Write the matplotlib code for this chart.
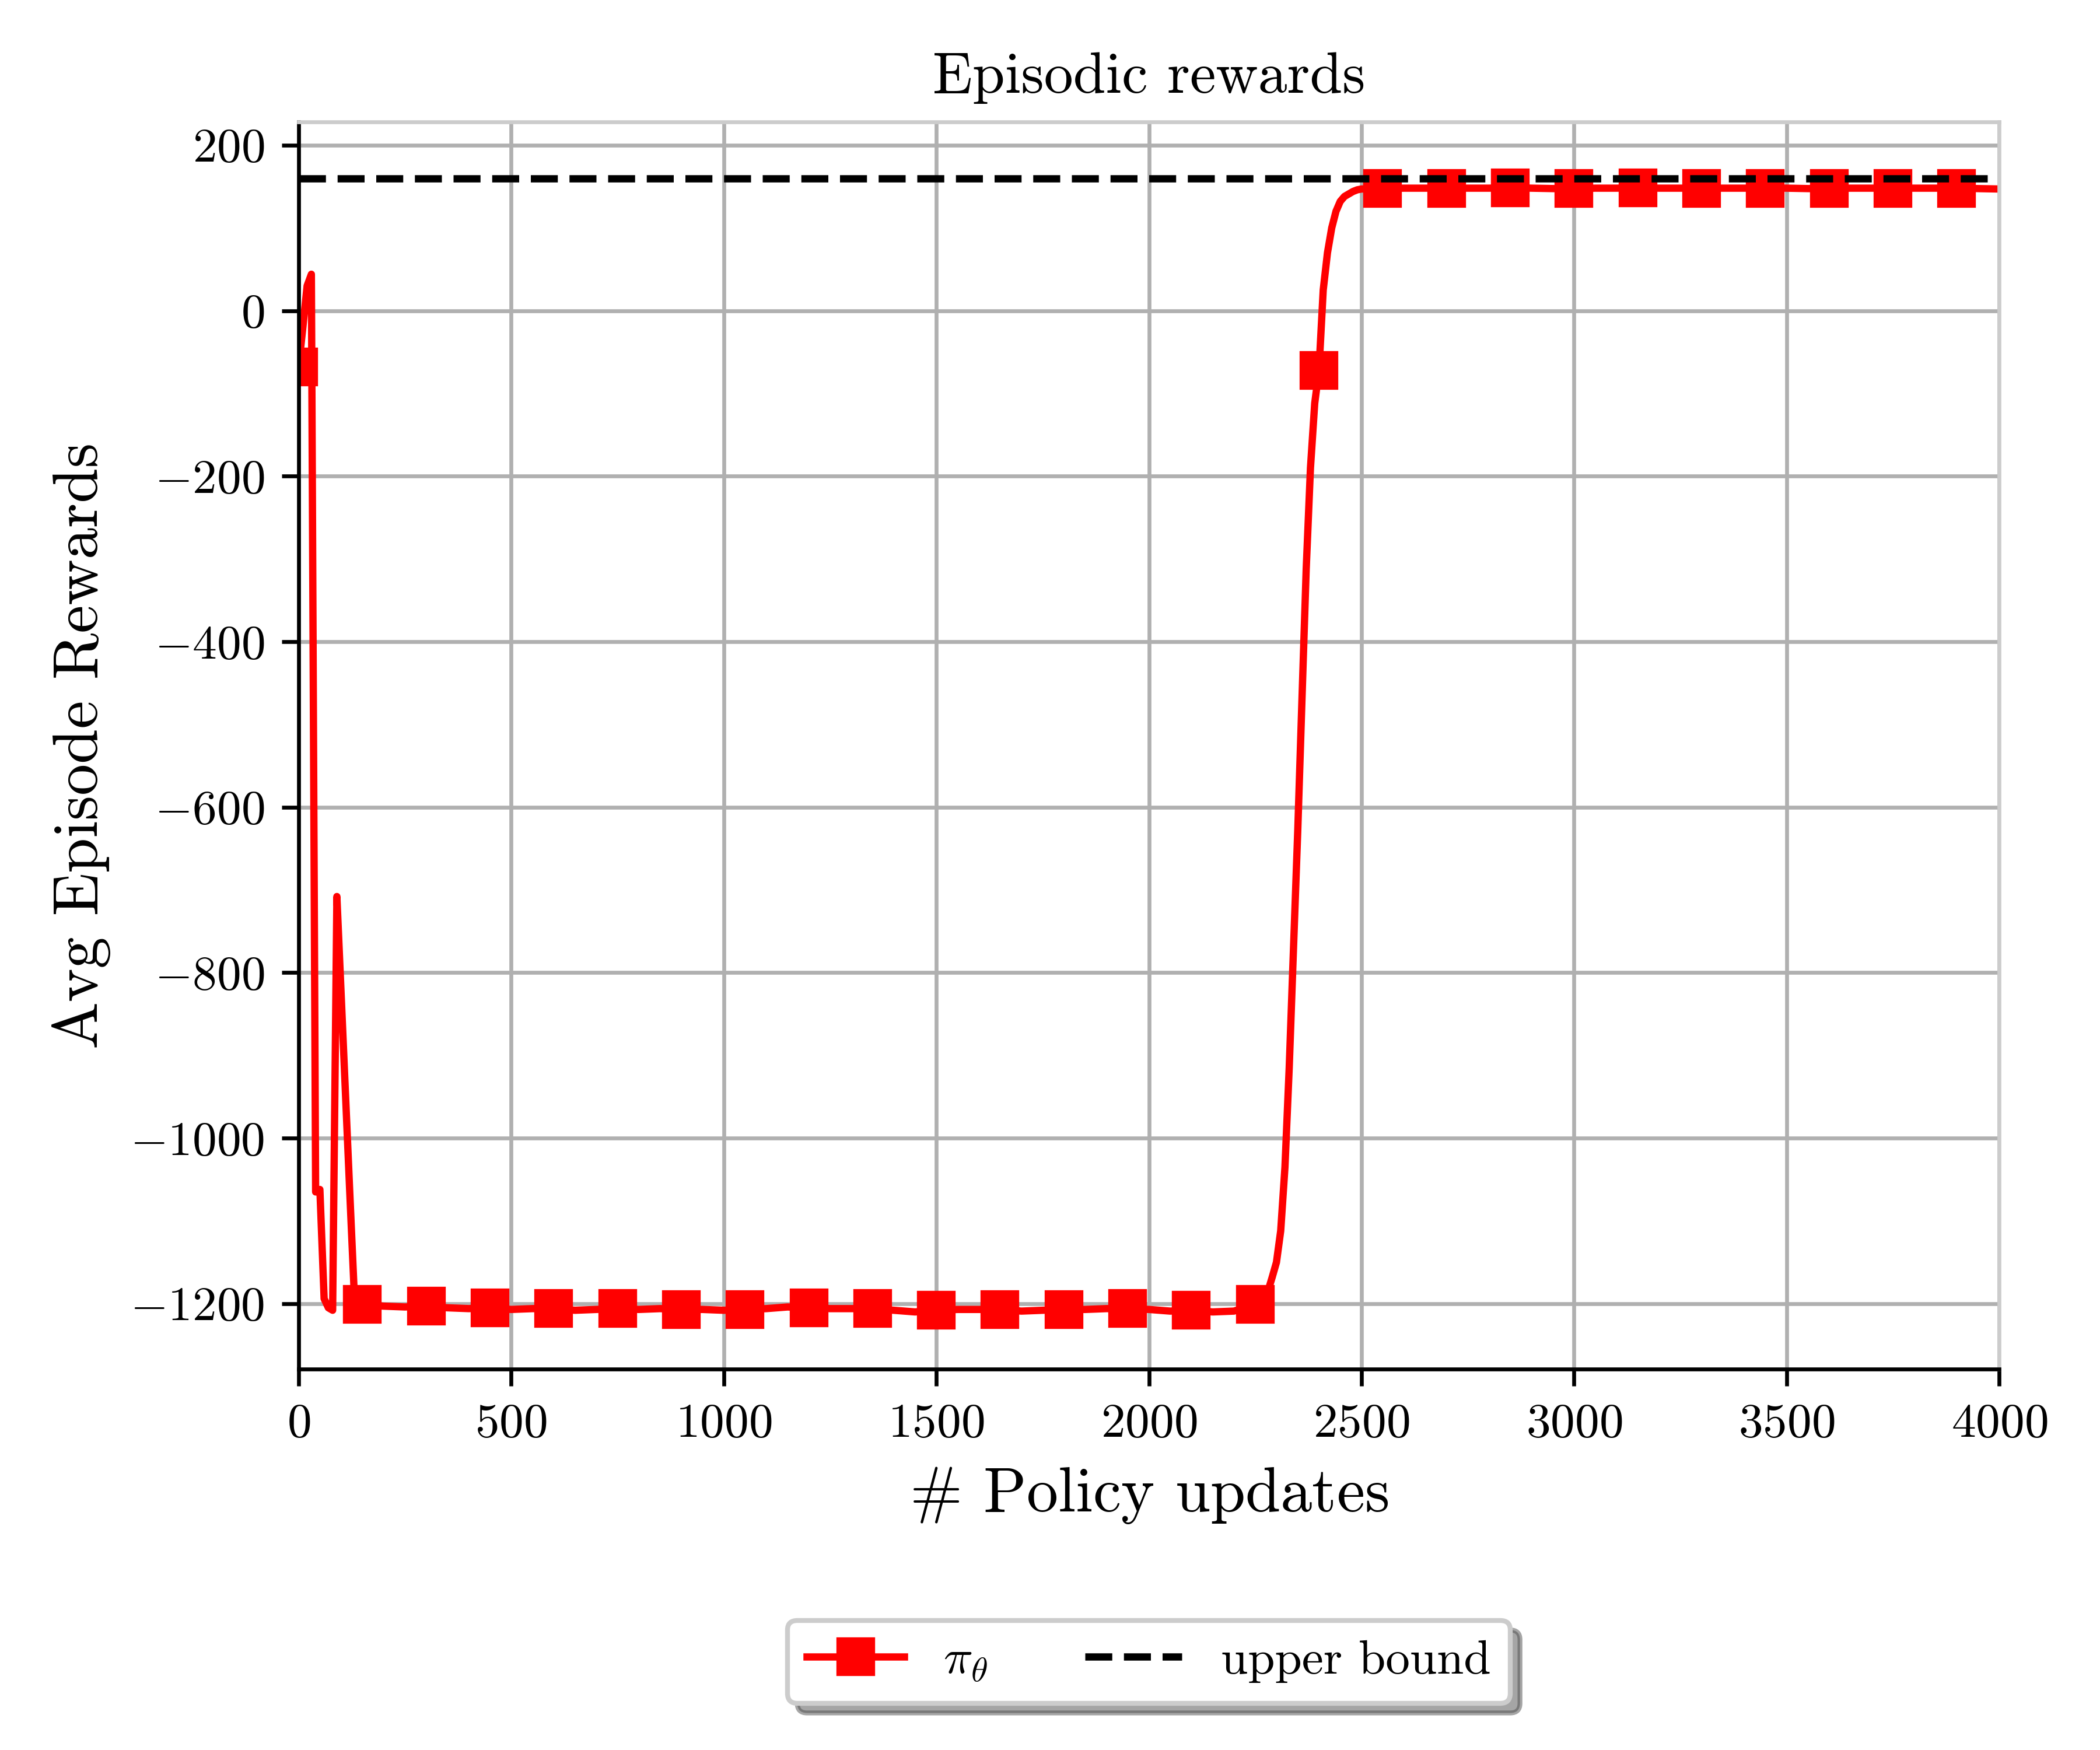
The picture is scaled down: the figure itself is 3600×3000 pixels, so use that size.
import numpy as np
import matplotlib
matplotlib.use('Agg')
import matplotlib.pyplot as plt

plt.rcParams['font.family'] = 'serif'
plt.rcParams['font.serif'] = ['cmr10', 'DejaVu Serif']
plt.rcParams['mathtext.fontset'] = 'cm'
plt.rcParams['axes.formatter.use_mathtext'] = True
plt.rcParams['axes.unicode_minus'] = True

# policy update index and average episode reward
steps = [0, 10, 20, 30, 40, 50, 60, 70, 80, 90, 100, 110, 120, 130, 140,
         150, 200, 250, 300, 350, 400, 450, 500, 550, 600, 650, 700, 750,
         800, 850, 900, 950, 1000, 1050, 1100, 1150, 1200, 1250, 1300, 1350,
         1400, 1450, 1500, 1550, 1600, 1650, 1700, 1750, 1800, 1850, 1900,
         1950, 2000, 2050, 2100, 2150, 2200, 2250,
         2260, 2270, 2280, 2290, 2300, 2310, 2320, 2330, 2340, 2350, 2360,
         2370, 2380, 2390, 2400, 2410, 2420, 2430, 2440, 2450, 2460, 2470,
         2480, 2490, 2500,
         2550, 2600, 2650, 2700, 2750, 2800, 2850, 2900, 2950, 3000, 3050,
         3100, 3150, 3200, 3250, 3300, 3350, 3400, 3450, 3500, 3550, 3600,
         3650, 3700, 3750, 3800, 3850, 3900, 3950, 4000]
rewards = [-68, -20, 30, 44, -1065, -1062, -1194, -1205, -1208, -708, -826,
           -944, -1062, -1178, -1197,
           -1201, -1203, -1204, -1203, -1205, -1206, -1205, -1207, -1206,
           -1206, -1208, -1207, -1206, -1207, -1206, -1207, -1207, -1208,
           -1207, -1206, -1204, -1205, -1206, -1206, -1206, -1208, -1210,
           -1208, -1207, -1207, -1207, -1209, -1208, -1207, -1207, -1206,
           -1206, -1207, -1209, -1208, -1210, -1209, -1201,
           -1198, -1194, -1185, -1168, -1150, -1112, -1035, -915, -772,
           -630, -470, -312, -190, -112, -72, 25, 70, 100, 120, 132, 138,
           141, 144, 146, 147,
           147.5, 148, 148, 148, 148, 148, 148.5, 148, 147.5, 147.5, 148,
           148, 148.5, 148, 148, 148, 148, 148, 148, 148, 147.5, 147.5, 148,
           148, 148, 148, 148, 148, 147.5, 147]
upper_bound = 160

marks = [i for i, s in enumerate(steps) if s % 150 == 0]

fig = plt.figure(figsize=(6, 5), dpi=600)
ax = fig.add_axes([0.1422, 0.2177, 0.8098, 0.7126])

ax.plot(steps, rewards, color='red', lw=1.5, marker='s', ms=7,
        markevery=marks, label=r'$\pi_\theta$')
ax.axhline(upper_bound, color='black', ls='--', lw=1.5, label='upper bound')

ax.set_xlim(0, 4000)
ax.set_ylim(-1279, 228)
ax.set_xticks(np.arange(0, 4001, 500))
ax.set_yticks(np.arange(-1200, 201, 200))
ax.tick_params(labelsize=10)
ax.grid(True, color='#b0b0b0', lw=0.8)
ax.set_axisbelow(True)
for side in ['top', 'right']:
    ax.spines[side].set_color('#cccccc')

ax.set_title('Episodic rewards', fontsize=12)
ax.set_xlabel(r'$\#$ Policy updates', fontsize=13)
ax.set_ylabel('Avg Episode Rewards', fontsize=13)

ax.legend(loc='upper center', bbox_to_anchor=(0.5, -0.182), ncol=2,
          fancybox=True, shadow=True, fontsize=10)

plt.savefig('out.png', dpi=600)
